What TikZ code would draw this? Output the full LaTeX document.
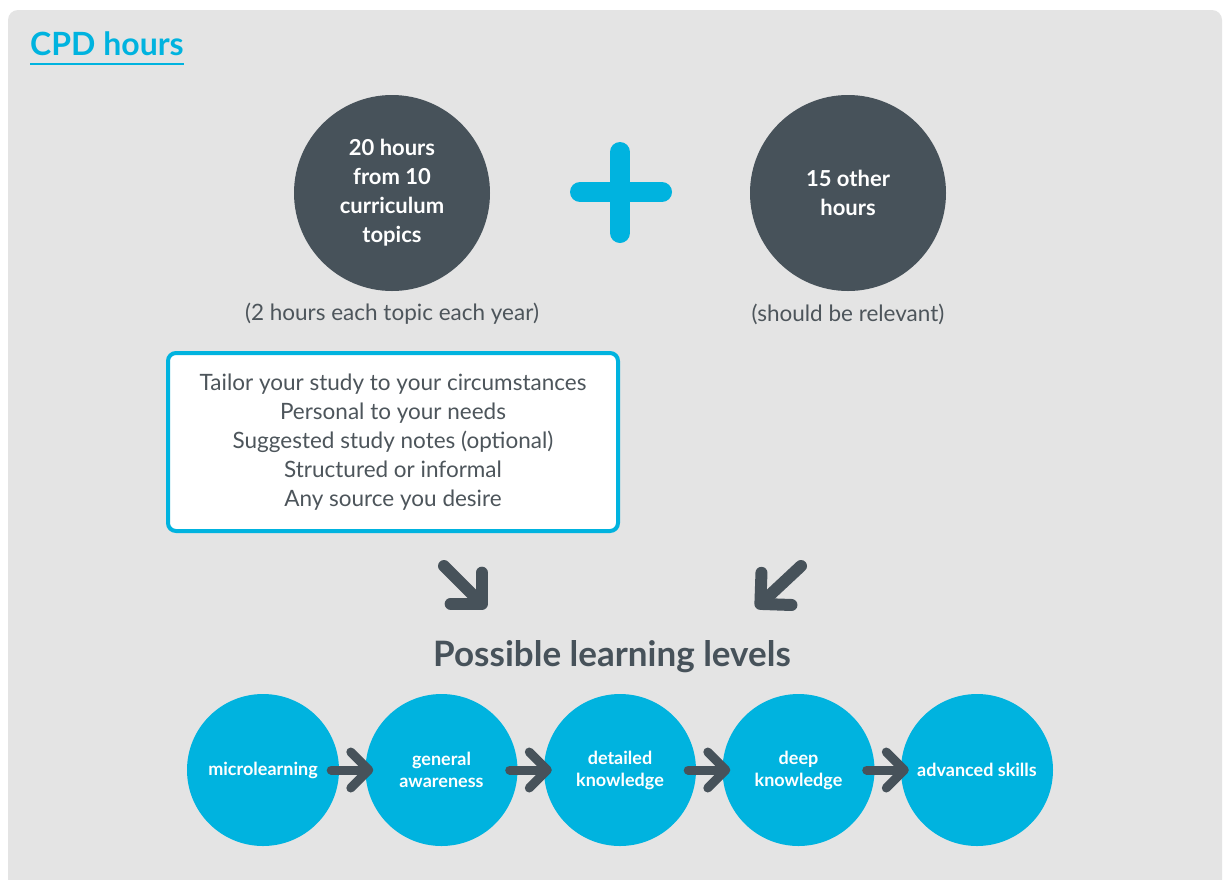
\documentclass[tikz,border=0pt]{standalone}
\usepackage{fontspec}
\setmainfont{Lato}
\usetikzlibrary{arrows.meta,positioning}
\definecolor{cpdcyan}{HTML}{00B3DF}
\definecolor{cpdgrey}{HTML}{47525A}
\definecolor{cpdpanel}{HTML}{E4E4E4}
\definecolor{cpdtext}{HTML}{4D555B}
\tikzset{
	hours circle/.style={
		circle,
		fill=cpdgrey,
		minimum size=196pt,
		inner sep=0pt,
		align=center,
		text=white,
		font=\fontsize{22}{29}\selectfont\bfseries
	},
	level circle/.style={
		circle,
		fill=cpdcyan,
		minimum size=152pt,
		inner sep=0pt,
		align=center,
		text=white,
		font=\fontsize{18}{22}\selectfont\bfseries
	},
	note/.style={
		text=cpdtext,
		align=center,
		font=\fontsize{22.5}{29}\selectfont
	},
	step arrow/.style={
		draw=cpdgrey,
		line width=9pt,
		line cap=round,
		-{Straight Barb[round, length=18pt, width=36pt]},
		shorten <=-8pt,
		shorten >=-8pt
	},
	down arrow/.style={
		draw=cpdgrey,
		line width=12pt,
		line cap=round,
		-{Straight Barb[round, length=22pt, width=44pt]}
	},
}

\begin{document}
\begin{tikzpicture}[x=1pt, y=-1pt]

\useasboundingbox (0,0) rectangle (1229,879);
\fill [white] (0,0) rectangle (1229,879);
\fill [cpdpanel, rounded corners=10pt] (8,10) rectangle (1222,910);

\node [anchor=base west, inner sep=0pt, text=cpdcyan,
	font=\fontsize{32}{40}\selectfont\bfseries] (title) at (30,55) {CPD hours};
\draw [cpdcyan, line width=2pt] ([yshift=-9pt]title.base west) -- ([yshift=-9pt]title.base east);

\node [hours circle] (topics) at (392,193) {20 hours\\from 10\\curriculum\\topics};
\node [hours circle] (other) at (848,193) {15 other\\hours};

\draw [cpdcyan, line width=20pt, line cap=round] (580,192) -- (662,192) (620,152) -- (620,233);

\node [note] (topics-note) at (392,314) {(2 hours each topic each year)};
\node [note] (other-note) at (848,314) {(should be relevant)};

\node [note, draw=cpdcyan, line width=4pt, fill=white, rounded corners=8pt,
	minimum width=450pt, minimum height=178pt] (study) at (393,442)
	{Tailor your study to your circumstances\\Personal to your needs\\
	Suggested study notes (optional)\\Structured or informal\\Any source you desire};

\node [text=cpdgrey, font=\fontsize{35}{40}\selectfont\bfseries] (levels) at (612,657) {Possible learning levels};

\coordinate (left-from) at (444,566);
\coordinate (left-to) at (486,608);
\coordinate (right-from) at (801,566);
\coordinate (right-to) at (756,608);
\draw [down arrow] (left-from) -- (left-to);
\draw [down arrow] (right-from) -- (right-to);

\foreach \l [count=\i] in {microlearning, general\\awareness, detailed\\knowledge, deep\\knowledge, advanced skills}
	\node [level circle] (level-\i) at (263+178.5*\i-178.5,770) {\l};

\foreach \i [count=\j from 2] in {1,2,3,4}
	\draw [step arrow] (level-\i) -- (level-\j);

\end{tikzpicture}
\end{document}
